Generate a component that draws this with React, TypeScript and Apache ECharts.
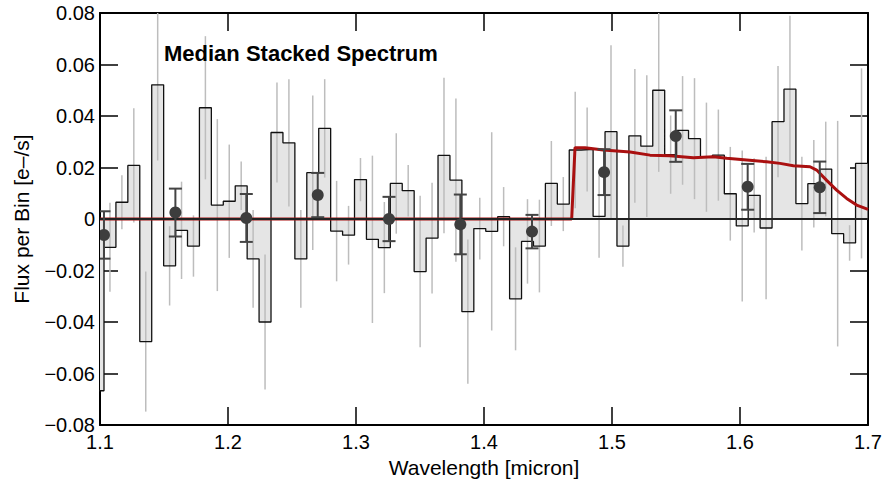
import React, { useEffect, useRef } from 'react';
import * as echarts from 'echarts';

// Bin grid (left edge of first, partially visible, bin and bin width in micron)
const BIN_START = 1.0938;
const BIN_WIDTH = 0.00932;

// Median stacked flux per bin [e-/s]
const FLUX = [
  -0.0667, -0.011, 0.0065, 0.0208, -0.0476, 0.0521, -0.0182, -0.0044, -0.0105, 0.0432,
  0.0054, 0.0069, 0.0129, -0.0155, -0.04, 0.0336, 0.0296, -0.0155, 0.018, 0.0352,
  -0.0047, -0.0063, 0.0153, -0.0079, -0.0111, 0.0138, 0.011, -0.0204, -0.0074, 0.0247,
  0.0151, -0.036, -0.0037, -0.0048, 0.0009, -0.031, -0.0087, -0.0105, 0.0138, 0.0058,
  0.0268, 0.027, 0.001, 0.0339, -0.0105, 0.0323, 0.0283, 0.05, 0.025, 0.0344,
  0.0312, 0.024, 0.0248, 0.0098, -0.0027, 0.0092, -0.0035, 0.0378, 0.0504, 0.006,
  0.0137, 0.0194, -0.0057, -0.0093, 0.0216,
];

// 1-sigma uncertainties per bin
const FLUX_ERR = [
  0.02, 0.0173, 0.0105, 0.0222, 0.0272, 0.0294, 0.0154, 0.0189, 0.0119, 0.0278,
  0.0334, 0.022, 0.0094, 0.019, 0.0262, 0.0194, 0.0247, 0.019, 0.03, 0.0191,
  0.0195, 0.0114, 0.0084, 0.0325, 0.0177, 0.0195, 0.01, 0.0294, 0.0215, 0.0302,
  0.0317, 0.028, 0.012, 0.0385, 0.0115, 0.02, 0.0164, 0.018, 0.0165, 0.0105,
  0.0226, 0.0163, 0.016, 0.0336, 0.008, 0.026, 0.0275, 0.0317, 0.0152, 0.0211,
  0.0235, 0.0212, 0.0177, 0.0182, 0.0293, 0.0144, 0.0277, 0.0216, 0.0285, 0.0182,
  0.017, 0.0184, 0.0438, 0.0069, 0.0369,
];

// Coarsely binned points
const BINNED_X = [1.1031, 1.1589, 1.2143, 1.2701, 1.3258, 1.3815, 1.4375, 1.4938, 1.5498, 1.606, 1.6623];
const BINNED_Y = [-0.0062, 0.0025, 0.0004, 0.0093, 0.0, -0.0021, -0.0049, 0.0182, 0.0322, 0.0125, 0.0123];
const BINNED_ERR = [0.0092, 0.0093, 0.0093, 0.0086, 0.0086, 0.0116, 0.0065, 0.0089, 0.01, 0.0089, 0.01];

// Model spectrum
const MODEL_X = [
  1.1, 1.4685, 1.4711, 1.4789, 1.4932, 1.5141, 1.5297, 1.5453, 1.5635, 1.5792, 1.5896,
  1.6052, 1.6208, 1.6313, 1.6417, 1.6547, 1.6599, 1.6677, 1.6755, 1.6833, 1.6911, 1.7,
];
const MODEL_Y = [
  0, 0, 0.0277, 0.0277, 0.0268, 0.026, 0.0248, 0.0246, 0.0238, 0.0242, 0.0236,
  0.0229, 0.0222, 0.0216, 0.0207, 0.0203, 0.019, 0.015, 0.0112, 0.008, 0.0054, 0.0037,
];

const TITLE = 'Median Stacked Spectrum';
const X_NAME = 'Wavelength [micron]';
const Y_NAME = 'Flux per Bin [e\u2013/s]';

const FONT = "'Liberation Sans', Arial, Helvetica, sans-serif";

export default function App() {
  const ref = useRef<HTMLDivElement>(null);

  useEffect(() => {
    document.body.style.margin = '0';
    const chart = echarts.init(ref.current!, null, { renderer: 'svg' });

    const stepData: number[][] = FLUX.map((v, i) => [BIN_START + i * BIN_WIDTH, v]);
    stepData.push([BIN_START + FLUX.length * BIN_WIDTH, FLUX[FLUX.length - 1]]);
    const errData = FLUX.map((v, i) => [BIN_START + (i + 0.5) * BIN_WIDTH, v, FLUX_ERR[i]]);
    const binnedData = BINNED_X.map((x, i) => [x, BINNED_Y[i], BINNED_ERR[i]]);
    const modelData = MODEL_X.map((x, i) => [x, MODEL_Y[i]]);

    const tickStyle = { color: '#000', width: 1.5 };
    const axisLine = { show: true, onZero: false, lineStyle: { color: '#000', width: 2 } };

    const option: any = {
      animation: false,
      grid: { left: 100, right: 18, top: 13, bottom: 58 },
      xAxis: [
        {
          type: 'value', min: 1.1, max: 1.7, interval: 0.1, position: 'bottom',
          axisLine, splitLine: { show: false },
          axisTick: { show: true, inside: true, length: 18, lineStyle: tickStyle },
          axisLabel: {
            show: true, margin: 7, color: '#000', fontSize: 20, fontFamily: FONT,
            formatter: (v: number) => v.toFixed(1),
          },
          name: X_NAME, nameLocation: 'middle', nameGap: 27,
          nameTextStyle: { color: '#000', fontSize: 21, fontFamily: FONT },
        },
        {
          type: 'value', min: 1.1, max: 1.7, interval: 0.1, position: 'top',
          axisLine, splitLine: { show: false },
          axisTick: { show: true, inside: true, length: 18, lineStyle: tickStyle },
          axisLabel: { show: false },
        },
      ],
      yAxis: [
        {
          type: 'value', min: -0.08, max: 0.08, interval: 0.02, position: 'left',
          axisLine, splitLine: { show: false },
          axisTick: { show: true, inside: true, length: 18, lineStyle: tickStyle },
          axisLabel: {
            show: true, margin: 5, color: '#000', fontSize: 20, fontFamily: FONT,
            formatter: (v: number) => {
              if (Math.abs(v) < 1e-9) return '0';
              return (v < 0 ? '\u2212' : '') + Math.abs(v).toFixed(2);
            },
          },
          name: Y_NAME, nameLocation: 'middle', nameGap: 68,
          nameTextStyle: { color: '#000', fontSize: 21, fontFamily: FONT },
        },
        {
          type: 'value', min: -0.08, max: 0.08, interval: 0.02, position: 'right',
          axisLine, splitLine: { show: false },
          axisTick: { show: true, inside: true, length: 18, lineStyle: tickStyle },
          axisLabel: { show: false },
        },
      ],
      graphic: [
        {
          type: 'text', x: 164, y: 53, z: 100,
          style: {
            text: TITLE, fill: '#000', font: `bold 22px ${FONT}`,
            textAlign: 'left', textVerticalAlign: 'middle', verticalAlign: 'middle',
          },
        },
      ],
      series: [
        {
          name: 'fill', type: 'line', step: 'end', data: stepData, symbol: 'none',
          lineStyle: { width: 0, opacity: 0 }, areaStyle: { color: '#e5e5e5', opacity: 1 },
          z: 1, silent: true, clip: true,
        },
        {
          name: 'errors', type: 'custom', data: errData, z: 2, clip: true, silent: true,
          encode: { x: 0, y: 1 },
          renderItem: (_p: any, api: any) => {
            const x = api.value(0), y = api.value(1), e = api.value(2);
            const a = api.coord([x, y - e]);
            const b = api.coord([x, y + e]);
            return {
              type: 'line',
              shape: { x1: a[0], y1: a[1], x2: b[0], y2: b[1] },
              style: { stroke: '#bdbdbd', lineWidth: 1.5 },
            };
          },
        },
        {
          name: 'outline', type: 'line', step: 'end', data: stepData, symbol: 'none',
          lineStyle: { color: '#111', width: 1.3 }, z: 3, silent: true, clip: true,
          markLine: {
            silent: true, symbol: 'none', label: { show: false },
            lineStyle: { color: '#222', width: 2, type: 'solid' },
            data: [{ yAxis: 0 }],
          },
        },
        {
          name: 'model', type: 'line', data: modelData, symbol: 'none',
          lineStyle: { color: '#aa1010', width: 3 }, z: 4, silent: true, clip: true,
        },
        {
          name: 'binned', type: 'custom', data: binnedData, z: 5, clip: true, silent: true,
          encode: { x: 0, y: 1 },
          renderItem: (_p: any, api: any) => {
            const x = api.value(0), y = api.value(1), e = api.value(2);
            const c = api.coord([x, y]);
            const lo = api.coord([x, y - e]);
            const hi = api.coord([x, y + e]);
            const cap = 6.5;
            const st = { stroke: '#444', lineWidth: 2 };
            return {
              type: 'group',
              children: [
                { type: 'line', shape: { x1: lo[0], y1: lo[1], x2: hi[0], y2: hi[1] }, style: st },
                { type: 'line', shape: { x1: lo[0] - cap, y1: lo[1], x2: lo[0] + cap, y2: lo[1] }, style: st },
                { type: 'line', shape: { x1: hi[0] - cap, y1: hi[1], x2: hi[0] + cap, y2: hi[1] }, style: st },
                { type: 'circle', shape: { cx: c[0], cy: c[1], r: 6 }, style: { fill: '#3d3d3d' } },
              ],
            };
          },
        },
      ],
    };

    chart.setOption(option);
    return () => chart.dispose();
  }, []);

  return <div ref={ref} style={{ width: 886, height: 483 }} />;
}
